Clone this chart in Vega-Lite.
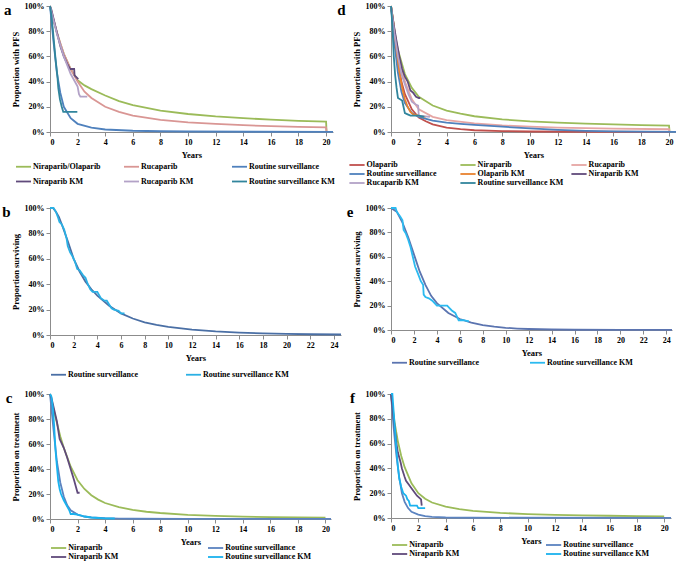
{
"$schema": "https://vega.github.io/schema/vega-lite/v6.json",
"padding": {"left": 2, "top": 2, "right": 0, "bottom": 0},
"config": {
 "font": "Liberation Serif",
 "view": {"stroke": null},
 "axis": {"grid": false, "labelFont": "Liberation Serif", "labelFontWeight": "bold", "labelFontSize": 8, "labelColor": "#000", "titleFont": "Liberation Serif", "titleFontWeight": "bold", "titleFontSize": 8.5, "titleColor": "#000", "domainColor": "#8c8c8c", "tickColor": "#8c8c8c", "tickSize": 4, "labelPadding": 2, "titlePadding": 4},
 "legend": {"title": null, "symbolType": "stroke", "symbolSize": 225, "symbolStrokeWidth": 2, "labelFont": "Liberation Serif", "labelFontWeight": "bold", "labelFontSize": 8, "labelColor": "#000", "labelOffset": 1, "gridAlign": "all", "orient": "none"},
 "title": {"font": "Liberation Serif", "fontWeight": "bold", "fontSize": 15, "orient": "left", "anchor": "end", "angle": 0, "frame": "group", "offset": -8, "baseline": "top", "align": "right", "dy": -3, "color": "#000"},
 "line": {"strokeWidth": 1.8}
},
"resolve": {"scale": {"color": "independent", "x": "independent", "y": "independent"}, "legend": {"color": "independent"}},
"columns": 2,
"spacing": {"row": 11, "column": -8},
"datasets": {
 "a": [
  {"s":"Niraparib/Olaparib","x":0,"y":1},{"s":"Niraparib/Olaparib","x":0.25,"y":0.89},{"s":"Niraparib/Olaparib","x":0.5,"y":0.79},{"s":"Niraparib/Olaparib","x":0.75,"y":0.7},{"s":"Niraparib/Olaparib","x":1,"y":0.62},{"s":"Niraparib/Olaparib","x":1.5,"y":0.5},{"s":"Niraparib/Olaparib","x":2,"y":0.41},{"s":"Niraparib/Olaparib","x":2.5,"y":0.37},{"s":"Niraparib/Olaparib","x":3,"y":0.34},{"s":"Niraparib/Olaparib","x":4,"y":0.29},{"s":"Niraparib/Olaparib","x":5,"y":0.245},{"s":"Niraparib/Olaparib","x":6,"y":0.214},{"s":"Niraparib/Olaparib","x":8,"y":0.17},{"s":"Niraparib/Olaparib","x":10,"y":0.143},{"s":"Niraparib/Olaparib","x":12,"y":0.124},{"s":"Niraparib/Olaparib","x":14,"y":0.11},{"s":"Niraparib/Olaparib","x":16,"y":0.098},{"s":"Niraparib/Olaparib","x":18,"y":0.089},{"s":"Niraparib/Olaparib","x":20,"y":0.082},{"s":"Niraparib/Olaparib","x":20.03,"y":0.005},
  {"s":"Rucaparib","x":0,"y":1},{"s":"Rucaparib","x":0.5,"y":0.79},{"s":"Rucaparib","x":1,"y":0.62},{"s":"Rucaparib","x":1.5,"y":0.5},{"s":"Rucaparib","x":2,"y":0.4},{"s":"Rucaparib","x":2.5,"y":0.32},{"s":"Rucaparib","x":3,"y":0.27},{"s":"Rucaparib","x":4,"y":0.2},{"s":"Rucaparib","x":5,"y":0.16},{"s":"Rucaparib","x":6,"y":0.13},{"s":"Rucaparib","x":8,"y":0.096},{"s":"Rucaparib","x":10,"y":0.077},{"s":"Rucaparib","x":12,"y":0.064},{"s":"Rucaparib","x":14,"y":0.054},{"s":"Rucaparib","x":16,"y":0.047},{"s":"Rucaparib","x":18,"y":0.041},{"s":"Rucaparib","x":20,"y":0.037},{"s":"Rucaparib","x":20.03,"y":0.003},
  {"s":"Routine surveillance","x":0,"y":1},{"s":"Routine surveillance","x":0.25,"y":0.72},{"s":"Routine surveillance","x":0.5,"y":0.47},{"s":"Routine surveillance","x":0.75,"y":0.31},{"s":"Routine surveillance","x":1,"y":0.2},{"s":"Routine surveillance","x":1.5,"y":0.11},{"s":"Routine surveillance","x":2,"y":0.065},{"s":"Routine surveillance","x":3,"y":0.035},{"s":"Routine surveillance","x":4,"y":0.02},{"s":"Routine surveillance","x":6,"y":0.01},{"s":"Routine surveillance","x":8,"y":0.006},{"s":"Routine surveillance","x":10,"y":0.004},{"s":"Routine surveillance","x":15,"y":0.002},{"s":"Routine surveillance","x":20.5,"y":0.001},
  {"s":"Niraparib KM","x":0,"y":1},{"s":"Niraparib KM","x":0.1,"y":0.97},{"s":"Niraparib KM","x":0.3,"y":0.88},{"s":"Niraparib KM","x":0.5,"y":0.79},{"s":"Niraparib KM","x":0.75,"y":0.68},{"s":"Niraparib KM","x":1,"y":0.6},{"s":"Niraparib KM","x":1.25,"y":0.54},{"s":"Niraparib KM","x":1.45,"y":0.5},{"s":"Niraparib KM","x":1.75,"y":0.5},{"s":"Niraparib KM","x":1.78,"y":0.45},{"s":"Niraparib KM","x":2.05,"y":0.42},
  {"s":"Rucaparib KM","x":0,"y":1},{"s":"Rucaparib KM","x":0.5,"y":0.78},{"s":"Rucaparib KM","x":1,"y":0.6},{"s":"Rucaparib KM","x":1.5,"y":0.46},{"s":"Rucaparib KM","x":2,"y":0.36},{"s":"Rucaparib KM","x":2.1,"y":0.3},{"s":"Rucaparib KM","x":2.2,"y":0.28},{"s":"Rucaparib KM","x":2.7,"y":0.28},
  {"s":"Routine surveillance KM","x":0,"y":1},{"s":"Routine surveillance KM","x":0.1,"y":0.93},{"s":"Routine surveillance KM","x":0.2,"y":0.82},{"s":"Routine surveillance KM","x":0.3,"y":0.7},{"s":"Routine surveillance KM","x":0.4,"y":0.58},{"s":"Routine surveillance KM","x":0.53,"y":0.45},{"s":"Routine surveillance KM","x":0.6,"y":0.35},{"s":"Routine surveillance KM","x":0.72,"y":0.26},{"s":"Routine surveillance KM","x":0.85,"y":0.2},{"s":"Routine surveillance KM","x":0.96,"y":0.16},{"s":"Routine surveillance KM","x":1.98,"y":0.16}
 ],
 "d": [
  {"s":"Olaparib","x":0,"y":1},{"s":"Olaparib","x":0.25,"y":0.75},{"s":"Olaparib","x":0.5,"y":0.55},{"s":"Olaparib","x":0.75,"y":0.4},{"s":"Olaparib","x":1,"y":0.3},{"s":"Olaparib","x":1.5,"y":0.18},{"s":"Olaparib","x":2,"y":0.115},{"s":"Olaparib","x":2.5,"y":0.085},{"s":"Olaparib","x":3,"y":0.06},{"s":"Olaparib","x":4,"y":0.035},{"s":"Olaparib","x":5,"y":0.022},{"s":"Olaparib","x":6,"y":0.014},{"s":"Olaparib","x":8,"y":0.007},{"s":"Olaparib","x":10,"y":0.004},{"s":"Olaparib","x":14,"y":0.002},{"s":"Olaparib","x":20,"y":0.001},
  {"s":"Niraparib","x":0,"y":1},{"s":"Niraparib","x":0.25,"y":0.8},{"s":"Niraparib","x":0.5,"y":0.65},{"s":"Niraparib","x":1,"y":0.46},{"s":"Niraparib","x":1.5,"y":0.35},{"s":"Niraparib","x":2,"y":0.28},{"s":"Niraparib","x":3,"y":0.21},{"s":"Niraparib","x":4,"y":0.17},{"s":"Niraparib","x":5,"y":0.145},{"s":"Niraparib","x":6,"y":0.125},{"s":"Niraparib","x":8,"y":0.1},{"s":"Niraparib","x":10,"y":0.085},{"s":"Niraparib","x":12,"y":0.075},{"s":"Niraparib","x":14,"y":0.066},{"s":"Niraparib","x":16,"y":0.06},{"s":"Niraparib","x":18,"y":0.054},{"s":"Niraparib","x":20,"y":0.05},{"s":"Niraparib","x":20.03,"y":0.01},
  {"s":"Rucaparib","x":0,"y":1},{"s":"Rucaparib","x":0.25,"y":0.8},{"s":"Rucaparib","x":0.5,"y":0.62},{"s":"Rucaparib","x":1,"y":0.4},{"s":"Rucaparib","x":1.5,"y":0.26},{"s":"Rucaparib","x":2,"y":0.18},{"s":"Rucaparib","x":3,"y":0.12},{"s":"Rucaparib","x":4,"y":0.095},{"s":"Rucaparib","x":6,"y":0.068},{"s":"Rucaparib","x":8,"y":0.052},{"s":"Rucaparib","x":10,"y":0.042},{"s":"Rucaparib","x":12,"y":0.035},{"s":"Rucaparib","x":16,"y":0.027},{"s":"Rucaparib","x":20,"y":0.022},{"s":"Rucaparib","x":20.03,"y":0.004},
  {"s":"Routine surveillance","x":0,"y":1},{"s":"Routine surveillance","x":0.25,"y":0.7},{"s":"Routine surveillance","x":0.5,"y":0.47},{"s":"Routine surveillance","x":0.75,"y":0.32},{"s":"Routine surveillance","x":1,"y":0.23},{"s":"Routine surveillance","x":1.5,"y":0.15},{"s":"Routine surveillance","x":2,"y":0.12},{"s":"Routine surveillance","x":3,"y":0.09},{"s":"Routine surveillance","x":4,"y":0.075},{"s":"Routine surveillance","x":5,"y":0.065},{"s":"Routine surveillance","x":6,"y":0.056},{"s":"Routine surveillance","x":8,"y":0.042},{"s":"Routine surveillance","x":10,"y":0.028},{"s":"Routine surveillance","x":12,"y":0.017},{"s":"Routine surveillance","x":14,"y":0.009},{"s":"Routine surveillance","x":16,"y":0.005},{"s":"Routine surveillance","x":18,"y":0.003},{"s":"Routine surveillance","x":20.5,"y":0.001},
  {"s":"Olaparib KM","x":0,"y":1},{"s":"Olaparib KM","x":0.2,"y":0.85},{"s":"Olaparib KM","x":0.4,"y":0.65},{"s":"Olaparib KM","x":0.6,"y":0.48},{"s":"Olaparib KM","x":0.8,"y":0.35},{"s":"Olaparib KM","x":1,"y":0.26},{"s":"Olaparib KM","x":1.2,"y":0.2},{"s":"Olaparib KM","x":1.4,"y":0.16},{"s":"Olaparib KM","x":1.6,"y":0.14},{"s":"Olaparib KM","x":2,"y":0.13},{"s":"Olaparib KM","x":2.5,"y":0.12},
  {"s":"Niraparib KM","x":0,"y":1},{"s":"Niraparib KM","x":0.2,"y":0.85},{"s":"Niraparib KM","x":0.4,"y":0.72},{"s":"Niraparib KM","x":0.6,"y":0.6},{"s":"Niraparib KM","x":0.8,"y":0.5},{"s":"Niraparib KM","x":1,"y":0.44},{"s":"Niraparib KM","x":1.2,"y":0.4},{"s":"Niraparib KM","x":1.4,"y":0.33},{"s":"Niraparib KM","x":1.6,"y":0.31},{"s":"Niraparib KM","x":1.8,"y":0.28},{"s":"Niraparib KM","x":2,"y":0.27},{"s":"Niraparib KM","x":2.1,"y":0.27},
  {"s":"Rucaparib KM","x":0,"y":1},{"s":"Rucaparib KM","x":0.25,"y":0.78},{"s":"Rucaparib KM","x":0.5,"y":0.6},{"s":"Rucaparib KM","x":0.75,"y":0.46},{"s":"Rucaparib KM","x":1,"y":0.38},{"s":"Rucaparib KM","x":1.25,"y":0.3},{"s":"Rucaparib KM","x":1.5,"y":0.24},{"s":"Rucaparib KM","x":1.75,"y":0.22},{"s":"Rucaparib KM","x":1.95,"y":0.21},{"s":"Rucaparib KM","x":2,"y":0.13},{"s":"Rucaparib KM","x":2.8,"y":0.12},
  {"s":"Routine surveillance KM","x":0,"y":1},{"s":"Routine surveillance KM","x":0.1,"y":0.85},{"s":"Routine surveillance KM","x":0.2,"y":0.6},{"s":"Routine surveillance KM","x":0.3,"y":0.45},{"s":"Routine surveillance KM","x":0.4,"y":0.35},{"s":"Routine surveillance KM","x":0.5,"y":0.27},{"s":"Routine surveillance KM","x":0.8,"y":0.25},{"s":"Routine surveillance KM","x":0.9,"y":0.2},{"s":"Routine surveillance KM","x":1,"y":0.15},{"s":"Routine surveillance KM","x":1.2,"y":0.14},{"s":"Routine surveillance KM","x":1.4,"y":0.13},{"s":"Routine surveillance KM","x":2,"y":0.13},{"s":"Routine surveillance KM","x":2.4,"y":0.12}
 ],
 "b": [
  {"s":"Routine surveillance","x":0,"y":1},{"s":"Routine surveillance","x":0.25,"y":1},{"s":"Routine surveillance","x":0.5,"y":0.97},{"s":"Routine surveillance","x":0.75,"y":0.93},{"s":"Routine surveillance","x":1,"y":0.87},{"s":"Routine surveillance","x":1.5,"y":0.74},{"s":"Routine surveillance","x":2,"y":0.6},{"s":"Routine surveillance","x":2.5,"y":0.5},{"s":"Routine surveillance","x":3,"y":0.42},{"s":"Routine surveillance","x":3.5,"y":0.36},{"s":"Routine surveillance","x":4,"y":0.31},{"s":"Routine surveillance","x":5,"y":0.23},{"s":"Routine surveillance","x":6,"y":0.17},{"s":"Routine surveillance","x":7,"y":0.13},{"s":"Routine surveillance","x":8,"y":0.1},{"s":"Routine surveillance","x":9,"y":0.08},{"s":"Routine surveillance","x":10,"y":0.064},{"s":"Routine surveillance","x":12,"y":0.042},{"s":"Routine surveillance","x":14,"y":0.028},{"s":"Routine surveillance","x":16,"y":0.019},{"s":"Routine surveillance","x":18,"y":0.013},{"s":"Routine surveillance","x":20,"y":0.009},{"s":"Routine surveillance","x":22,"y":0.006},{"s":"Routine surveillance","x":24.6,"y":0.004},
  {"s":"Routine surveillance KM","x":0,"y":1},{"s":"Routine surveillance KM","x":0.3,"y":1},{"s":"Routine surveillance KM","x":0.5,"y":0.97},{"s":"Routine surveillance KM","x":0.7,"y":0.92},{"s":"Routine surveillance KM","x":0.8,"y":0.89},{"s":"Routine surveillance KM","x":1,"y":0.87},{"s":"Routine surveillance KM","x":1.2,"y":0.83},{"s":"Routine surveillance KM","x":1.4,"y":0.76},{"s":"Routine surveillance KM","x":1.5,"y":0.7},{"s":"Routine surveillance KM","x":1.7,"y":0.65},{"s":"Routine surveillance KM","x":1.9,"y":0.62},{"s":"Routine surveillance KM","x":2.1,"y":0.58},{"s":"Routine surveillance KM","x":2.3,"y":0.52},{"s":"Routine surveillance KM","x":2.5,"y":0.51},{"s":"Routine surveillance KM","x":2.8,"y":0.47},{"s":"Routine surveillance KM","x":3,"y":0.45},{"s":"Routine surveillance KM","x":3.2,"y":0.4},{"s":"Routine surveillance KM","x":3.4,"y":0.36},{"s":"Routine surveillance KM","x":3.6,"y":0.34},{"s":"Routine surveillance KM","x":4,"y":0.34},{"s":"Routine surveillance KM","x":4.3,"y":0.29},{"s":"Routine surveillance KM","x":4.6,"y":0.27},{"s":"Routine surveillance KM","x":4.8,"y":0.27},{"s":"Routine surveillance KM","x":5,"y":0.24},{"s":"Routine surveillance KM","x":5.2,"y":0.21},{"s":"Routine surveillance KM","x":5.4,"y":0.2},{"s":"Routine surveillance KM","x":5.8,"y":0.19},{"s":"Routine surveillance KM","x":6,"y":0.17},{"s":"Routine surveillance KM","x":6.3,"y":0.17}
 ],
 "e": [
  {"s":"Routine surveillance","x":0,"y":1},{"s":"Routine surveillance","x":0.5,"y":0.97},{"s":"Routine surveillance","x":1,"y":0.88},{"s":"Routine surveillance","x":1.5,"y":0.76},{"s":"Routine surveillance","x":2,"y":0.62},{"s":"Routine surveillance","x":2.5,"y":0.48},{"s":"Routine surveillance","x":3,"y":0.37},{"s":"Routine surveillance","x":3.5,"y":0.28},{"s":"Routine surveillance","x":4,"y":0.22},{"s":"Routine surveillance","x":5,"y":0.14},{"s":"Routine surveillance","x":6,"y":0.09},{"s":"Routine surveillance","x":7,"y":0.06},{"s":"Routine surveillance","x":8,"y":0.04},{"s":"Routine surveillance","x":9,"y":0.027},{"s":"Routine surveillance","x":10,"y":0.018},{"s":"Routine surveillance","x":11,"y":0.012},{"s":"Routine surveillance","x":12,"y":0.008},{"s":"Routine surveillance","x":14,"y":0.004},{"s":"Routine surveillance","x":16,"y":0.002},{"s":"Routine surveillance","x":20,"y":0.001},{"s":"Routine surveillance","x":24.5,"y":0.001},
  {"s":"Routine surveillance KM","x":0,"y":1},{"s":"Routine surveillance KM","x":0.4,"y":1},{"s":"Routine surveillance KM","x":0.5,"y":0.97},{"s":"Routine surveillance KM","x":0.8,"y":0.93},{"s":"Routine surveillance KM","x":1,"y":0.9},{"s":"Routine surveillance KM","x":1.1,"y":0.82},{"s":"Routine surveillance KM","x":1.3,"y":0.79},{"s":"Routine surveillance KM","x":1.5,"y":0.74},{"s":"Routine surveillance KM","x":1.7,"y":0.68},{"s":"Routine surveillance KM","x":1.9,"y":0.6},{"s":"Routine surveillance KM","x":2.1,"y":0.52},{"s":"Routine surveillance KM","x":2.4,"y":0.45},{"s":"Routine surveillance KM","x":2.6,"y":0.4},{"s":"Routine surveillance KM","x":2.8,"y":0.37},{"s":"Routine surveillance KM","x":2.85,"y":0.29},{"s":"Routine surveillance KM","x":3,"y":0.27},{"s":"Routine surveillance KM","x":3.3,"y":0.26},{"s":"Routine surveillance KM","x":3.6,"y":0.24},{"s":"Routine surveillance KM","x":3.8,"y":0.22},{"s":"Routine surveillance KM","x":4,"y":0.2},{"s":"Routine surveillance KM","x":4.9,"y":0.2},{"s":"Routine surveillance KM","x":5.1,"y":0.18},{"s":"Routine surveillance KM","x":5.3,"y":0.16},{"s":"Routine surveillance KM","x":5.6,"y":0.14},{"s":"Routine surveillance KM","x":5.8,"y":0.1},{"s":"Routine surveillance KM","x":5.9,"y":0.08},{"s":"Routine surveillance KM","x":6.3,"y":0.08},{"s":"Routine surveillance KM","x":6.8,"y":0.07}
 ],
 "c": [
  {"s":"Niraparib","x":0,"y":1},{"s":"Niraparib","x":0.25,"y":0.88},{"s":"Niraparib","x":0.5,"y":0.77},{"s":"Niraparib","x":0.75,"y":0.66},{"s":"Niraparib","x":1,"y":0.57},{"s":"Niraparib","x":1.5,"y":0.42},{"s":"Niraparib","x":2,"y":0.31},{"s":"Niraparib","x":2.5,"y":0.24},{"s":"Niraparib","x":3,"y":0.19},{"s":"Niraparib","x":3.5,"y":0.155},{"s":"Niraparib","x":4,"y":0.128},{"s":"Niraparib","x":5,"y":0.095},{"s":"Niraparib","x":6,"y":0.073},{"s":"Niraparib","x":7,"y":0.058},{"s":"Niraparib","x":8,"y":0.048},{"s":"Niraparib","x":10,"y":0.033},{"s":"Niraparib","x":12,"y":0.025},{"s":"Niraparib","x":14,"y":0.019},{"s":"Niraparib","x":16,"y":0.015},{"s":"Niraparib","x":18,"y":0.012},{"s":"Niraparib","x":20,"y":0.01},
  {"s":"Routine surveillance","x":0,"y":1},{"s":"Routine surveillance","x":0.25,"y":0.72},{"s":"Routine surveillance","x":0.5,"y":0.46},{"s":"Routine surveillance","x":0.75,"y":0.29},{"s":"Routine surveillance","x":1,"y":0.18},{"s":"Routine surveillance","x":1.25,"y":0.11},{"s":"Routine surveillance","x":1.5,"y":0.07},{"s":"Routine surveillance","x":2,"y":0.035},{"s":"Routine surveillance","x":2.5,"y":0.02},{"s":"Routine surveillance","x":3,"y":0.012},{"s":"Routine surveillance","x":4,"y":0.006},{"s":"Routine surveillance","x":5,"y":0.003},{"s":"Routine surveillance","x":6,"y":0.002},{"s":"Routine surveillance","x":10,"y":0.001},{"s":"Routine surveillance","x":20.4,"y":0.001},
  {"s":"Niraparib KM","x":0,"y":1},{"s":"Niraparib KM","x":0.1,"y":0.97},{"s":"Niraparib KM","x":0.25,"y":0.9},{"s":"Niraparib KM","x":0.5,"y":0.78},{"s":"Niraparib KM","x":0.7,"y":0.64},{"s":"Niraparib KM","x":1,"y":0.57},{"s":"Niraparib KM","x":1.25,"y":0.49},{"s":"Niraparib KM","x":1.5,"y":0.4},{"s":"Niraparib KM","x":1.75,"y":0.31},{"s":"Niraparib KM","x":1.9,"y":0.25},{"s":"Niraparib KM","x":2,"y":0.21},{"s":"Niraparib KM","x":2.15,"y":0.21},
  {"s":"Routine surveillance KM","x":0,"y":1},{"s":"Routine surveillance KM","x":0.1,"y":0.98},{"s":"Routine surveillance KM","x":0.2,"y":0.9},{"s":"Routine surveillance KM","x":0.3,"y":0.75},{"s":"Routine surveillance KM","x":0.4,"y":0.55},{"s":"Routine surveillance KM","x":0.5,"y":0.42},{"s":"Routine surveillance KM","x":0.6,"y":0.3},{"s":"Routine surveillance KM","x":0.7,"y":0.24},{"s":"Routine surveillance KM","x":0.8,"y":0.2},{"s":"Routine surveillance KM","x":1,"y":0.15},{"s":"Routine surveillance KM","x":1.2,"y":0.11},{"s":"Routine surveillance KM","x":1.4,"y":0.07},{"s":"Routine surveillance KM","x":1.5,"y":0.04},{"s":"Routine surveillance KM","x":1.7,"y":0.04},{"s":"Routine surveillance KM","x":2,"y":0.035},{"s":"Routine surveillance KM","x":2.2,"y":0.03},{"s":"Routine surveillance KM","x":2.5,"y":0.02},{"s":"Routine surveillance KM","x":3,"y":0.012},{"s":"Routine surveillance KM","x":3.5,"y":0.008},{"s":"Routine surveillance KM","x":4,"y":0.005},{"s":"Routine surveillance KM","x":4.7,"y":0.004}
 ],
 "f": [
  {"s":"Niraparib","x":0,"y":1},{"s":"Niraparib","x":0.25,"y":0.78},{"s":"Niraparib","x":0.5,"y":0.62},{"s":"Niraparib","x":0.75,"y":0.5},{"s":"Niraparib","x":1,"y":0.41},{"s":"Niraparib","x":1.5,"y":0.28},{"s":"Niraparib","x":2,"y":0.2},{"s":"Niraparib","x":2.5,"y":0.155},{"s":"Niraparib","x":3,"y":0.125},{"s":"Niraparib","x":4,"y":0.092},{"s":"Niraparib","x":5,"y":0.072},{"s":"Niraparib","x":6,"y":0.058},{"s":"Niraparib","x":8,"y":0.041},{"s":"Niraparib","x":10,"y":0.031},{"s":"Niraparib","x":12,"y":0.025},{"s":"Niraparib","x":14,"y":0.021},{"s":"Niraparib","x":16,"y":0.018},{"s":"Niraparib","x":18,"y":0.015},{"s":"Niraparib","x":20,"y":0.013},
  {"s":"Routine surveillance","x":0,"y":1},{"s":"Routine surveillance","x":0.2,"y":0.72},{"s":"Routine surveillance","x":0.4,"y":0.5},{"s":"Routine surveillance","x":0.6,"y":0.33},{"s":"Routine surveillance","x":0.8,"y":0.2},{"s":"Routine surveillance","x":1,"y":0.13},{"s":"Routine surveillance","x":1.25,"y":0.08},{"s":"Routine surveillance","x":1.5,"y":0.05},{"s":"Routine surveillance","x":2,"y":0.028},{"s":"Routine surveillance","x":2.5,"y":0.015},{"s":"Routine surveillance","x":3,"y":0.009},{"s":"Routine surveillance","x":4,"y":0.004},{"s":"Routine surveillance","x":6,"y":0.002},{"s":"Routine surveillance","x":20.5,"y":0.001},
  {"s":"Niraparib KM","x":0,"y":1},{"s":"Niraparib KM","x":0.1,"y":0.9},{"s":"Niraparib KM","x":0.25,"y":0.75},{"s":"Niraparib KM","x":0.4,"y":0.6},{"s":"Niraparib KM","x":0.5,"y":0.53},{"s":"Niraparib KM","x":0.7,"y":0.45},{"s":"Niraparib KM","x":0.8,"y":0.4},{"s":"Niraparib KM","x":1,"y":0.33},{"s":"Niraparib KM","x":1.1,"y":0.3},{"s":"Niraparib KM","x":1.3,"y":0.27},{"s":"Niraparib KM","x":1.5,"y":0.24},{"s":"Niraparib KM","x":1.7,"y":0.21},{"s":"Niraparib KM","x":1.9,"y":0.18},{"s":"Niraparib KM","x":2.1,"y":0.16},{"s":"Niraparib KM","x":2.2,"y":0.15},{"s":"Niraparib KM","x":2.25,"y":0.1},
  {"s":"Routine surveillance KM","x":0,"y":1},{"s":"Routine surveillance KM","x":0.1,"y":1},{"s":"Routine surveillance KM","x":0.2,"y":0.85},{"s":"Routine surveillance KM","x":0.3,"y":0.7},{"s":"Routine surveillance KM","x":0.4,"y":0.55},{"s":"Routine surveillance KM","x":0.5,"y":0.42},{"s":"Routine surveillance KM","x":0.6,"y":0.32},{"s":"Routine surveillance KM","x":0.75,"y":0.25},{"s":"Routine surveillance KM","x":0.9,"y":0.2},{"s":"Routine surveillance KM","x":1.1,"y":0.18},{"s":"Routine surveillance KM","x":1.2,"y":0.15},{"s":"Routine surveillance KM","x":1.3,"y":0.14},{"s":"Routine surveillance KM","x":1.4,"y":0.1},{"s":"Routine surveillance KM","x":1.9,"y":0.1},{"s":"Routine surveillance KM","x":2,"y":0.08},{"s":"Routine surveillance KM","x":2.5,"y":0.08}
 ]
},
"concat": [
 {
  "data": {"name": "a"}, "width": 283, "height": 126,
  "title": {"text": "a"},
  "mark": {"type": "line"},
  "encoding": {
   "x": {"field": "x", "type": "quantitative", "scale": {"domain": [0, 20.5], "nice": false}, "axis": {"values": [0,2,4,6,8,10,12,14,16,18,20], "title": "Years"}},
   "y": {"field": "y", "type": "quantitative", "scale": {"domain": [0, 1]}, "axis": {"values": [0,0.2,0.4,0.6,0.8,1], "format": ".0%", "title": "Proportion with PFS"}},
   "color": {"field": "s", "type": "nominal", "scale": {"domain": ["Niraparib/Olaparib","Niraparib KM","Rucaparib","Rucaparib KM","Routine surveillance","Routine surveillance KM"], "range": ["#9bbb59","#604a7b","#d99694","#b3a2c7","#4f81bd","#31859c"]}, "legend": {"columns": 3, "legendX": -35, "legendY": 152, "columnPadding": 1, "rowPadding": 2}}
  }
 },
 {
  "data": {"name": "d"}, "width": 285, "height": 126,
  "title": {"text": "d"},
  "mark": {"type": "line"},
  "encoding": {
   "x": {"field": "x", "type": "quantitative", "scale": {"domain": [0, 20.5], "nice": false}, "axis": {"values": [0,2,4,6,8,10,12,14,16,18,20], "title": "Years"}},
   "y": {"field": "y", "type": "quantitative", "scale": {"domain": [0, 1]}, "axis": {"values": [0,0.2,0.4,0.6,0.8,1], "format": ".0%", "title": "Proportion with PFS"}},
   "color": {"field": "s", "type": "nominal", "scale": {"domain": ["Olaparib","Routine surveillance","Rucaparib KM","Niraparib","Olaparib KM","Routine surveillance KM","Rucaparib","Niraparib KM"], "range": ["#c0504d","#4f81bd","#b3a2c7","#9bbb59","#e8822e","#31859c","#e6a5a3","#604a7b"]}, "legend": {"columns": 3, "legendX": -45, "legendY": 148, "padding": 6, "columnPadding": 3, "rowPadding": 0, "symbolType": "M-1.9,0H1.9", "symbolSize": 64, "labelOffset": 4.6}}
  }
 },
 {
  "data": {"name": "b"}, "width": 291, "height": 127,
  "title": {"text": "b"},
  "mark": {"type": "line"},
  "encoding": {
   "x": {"field": "x", "type": "quantitative", "scale": {"domain": [0, 24.6], "nice": false}, "axis": {"values": [0,2,4,6,8,10,12,14,16,18,20,22,24], "title": "Years"}},
   "y": {"field": "y", "type": "quantitative", "scale": {"domain": [0, 1]}, "axis": {"values": [0,0.2,0.4,0.6,0.8,1], "format": ".0%", "title": "Proportion surviving"}},
   "color": {"field": "s", "type": "nominal", "scale": {"domain": ["Routine surveillance","Routine surveillance KM"], "range": ["#4a6fa5","#2bb0e4"]}, "legend": {"columns": 2, "legendX": 0, "legendY": 158, "columnPadding": 28}}
  }
 },
 {
  "data": {"name": "e"}, "width": 281, "height": 122,
  "title": {"text": "e"},
  "mark": {"type": "line"},
  "encoding": {
   "x": {"field": "x", "type": "quantitative", "scale": {"domain": [0, 24.5], "nice": false}, "axis": {"values": [0,2,4,6,8,10,12,14,16,18,20,22,24], "title": "Years"}},
   "y": {"field": "y", "type": "quantitative", "scale": {"domain": [0, 1]}, "axis": {"values": [0,0.2,0.4,0.6,0.8,1], "format": ".0%", "title": "Proportion surviving"}},
   "color": {"field": "s", "type": "nominal", "scale": {"domain": ["Routine surveillance","Routine surveillance KM"], "range": ["#5b74b0","#2bbaf0"]}, "legend": {"columns": 2, "legendX": 0, "legendY": 146, "columnPadding": 31}}
  }
 },
 {
  "data": {"name": "c"}, "width": 281, "height": 125,
  "title": {"text": "c"},
  "mark": {"type": "line"},
  "encoding": {
   "x": {"field": "x", "type": "quantitative", "scale": {"domain": [0, 20.4], "nice": false}, "axis": {"values": [0,2,4,6,8,10,12,14,16,18,20], "title": "Years"}},
   "y": {"field": "y", "type": "quantitative", "scale": {"domain": [0, 1]}, "axis": {"values": [0,0.2,0.4,0.6,0.8,1], "format": ".0%", "title": "Proportion on treatment"}},
   "color": {"field": "s", "type": "nominal", "scale": {"domain": ["Niraparib","Niraparib KM","Routine surveillance","Routine surveillance KM"], "range": ["#9bbb59","#604a7b","#5b83c0","#1ab2ee"]}, "legend": {"columns": 2, "legendX": 3.6, "legendY": 149, "columnPadding": 49, "rowPadding": 0, "symbolType": "M-1.9,0H1.9", "symbolSize": 64, "labelOffset": 4.6}}
  }
 },
 {
  "data": {"name": "f"}, "width": 280, "height": 124,
  "title": {"text": "f"},
  "mark": {"type": "line"},
  "encoding": {
   "x": {"field": "x", "type": "quantitative", "scale": {"domain": [0, 20.5], "nice": false}, "axis": {"values": [0,2,4,6,8,10,12,14,16,18,20], "title": "Years"}},
   "y": {"field": "y", "type": "quantitative", "scale": {"domain": [0, 1]}, "axis": {"values": [0,0.2,0.4,0.6,0.8,1], "format": ".0%", "title": "Proportion on treatment"}},
   "color": {"field": "s", "type": "nominal", "scale": {"domain": ["Niraparib","Niraparib KM","Routine surveillance","Routine surveillance KM"], "range": ["#9bbb59","#604a7b","#5b83c0","#1ab2ee"]}, "legend": {"columns": 2, "legendX": 3.6, "legendY": 146, "columnPadding": 46, "rowPadding": 0, "symbolType": "M-1.9,0H1.9", "symbolSize": 64, "labelOffset": 4.6}}
  }
 }
]
}
